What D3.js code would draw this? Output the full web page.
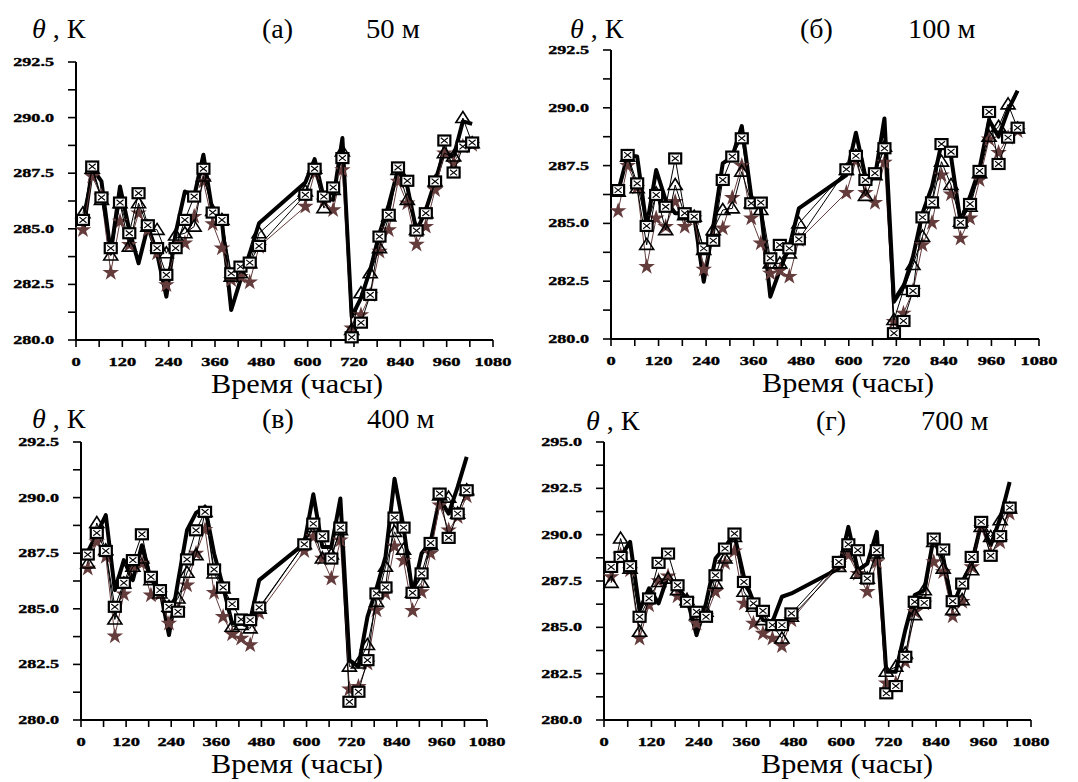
<!DOCTYPE html>
<html>
<head>
<meta charset="utf-8">
<script src="https://cdn.jsdelivr.net/npm/d3@7"></script>
<style>
  html, body { margin: 0; padding: 0; background: #fff; }
  svg { display: block; }
</style>
</head>
<body>
<svg id="chart" width="1078" height="782"></svg>
<script>
// Observation times, hours
const hours = [18, 42, 66, 90, 114, 138, 162, 186, 210, 234, 258, 282, 306, 330, 354, 378, 402, 426, 450, 474,
               594, 618, 642, 666, 690, 714, 738, 762, 786, 810, 834, 858, 882, 906, 930, 954, 978, 1002, 1026];

const xTicks = [0, 120, 240, 360, 480, 600, 720, 840, 960, 1080];

// 50 m
const thick50 = [284.8, 287.73, 287.13, 283.9, 286.9, 284.95, 283.45, 285.1, 283.9, 281.95, 284.8, 286.68, 286.45, 288.33, 285.7, 285.33, 281.35, 282.7, 283.9, 285.25,
                 287.08, 288.13, 286.38, 286.3, 289.08, 281.05, 281.88, 283.15, 284.8, 286.08, 287.65, 286.9, 284.88, 285.85, 287.13, 288.48, 288.25, 289.83, 289.72];
const tri50 = [285.7, 287.7, 286.3, 283.8, 286.15, 284.2, 286.15, 285.1, 284.95, 283.9, 284.7, 284.8, 285.1, 287.35, 285.8, 285.4, 282.85, 283.0, 283.45, 284.8,
               286.68, 287.7, 285.93, 286.75, 288.48, 280.45, 282.1, 283.0, 284.13, 285.55, 287.65, 286.3, 284.95, 285.7, 287.13, 288.4, 288.25, 289.98, 288.85];
const box50 = [285.4, 287.8, 286.41, 284.13, 286.18, 284.8, 286.6, 285.16, 284.13, 282.93, 284.13, 285.4, 286.45, 287.7, 285.73, 285.4, 283.0, 283.3, 283.48, 284.23,
               286.53, 287.7, 286.45, 286.86, 288.18, 280.12, 280.78, 282.03, 284.65, 285.63, 287.76, 287.16, 284.92, 285.7, 287.13, 288.97, 287.53, 288.7, 288.88];
const star50 = [284.95, 287.35, 286.45, 283.03, 285.33, 284.28, 285.7, 284.95, 283.9, 282.48, 284.2, 284.35, 285.55, 287.13, 285.22, 284.13, 282.7, 282.85, 282.6, 284.2,
                286.0, 287.5, 286.23, 285.85, 287.65, 280.53, 281.13, 282.03, 283.98, 284.95, 287.13, 286.15, 284.3, 285.1, 286.75, 288.4, 287.95, 288.7, 288.78];

// 100 m
const thick100 = [286.37, 287.96, 287.89, 284.86, 287.31, 286.01, 285.44, 285.44, 285.29, 282.48, 284.86, 287.6, 287.89, 289.21, 286.16, 285.65, 281.83, 282.98, 283.99, 285.65,
                  287.09, 288.92, 287.02, 287.02, 289.54, 281.61, 282.26, 283.56, 285.44, 286.59, 288.46, 287.89, 285.07, 286.16, 287.38, 289.47, 288.75, 289.9, 290.74];
const tri100 = [286.37, 287.89, 286.52, 284.07, 286.3, 284.71, 286.66, 285.36, 285.29, 283.85, 284.71, 285.58, 285.65, 287.24, 285.87, 285.58, 283.27, 283.27, 283.7, 285.0,
                287.31, 287.92, 286.19, 287.09, 288.32, 280.82, 282.12, 283.2, 284.43, 285.87, 287.67, 286.66, 285.07, 285.72, 287.17, 288.75, 289.18, 290.15, 289.11];
const box100 = [286.44, 287.96, 286.73, 284.89, 286.23, 285.72, 287.81, 285.44, 285.29, 283.92, 284.25, 286.88, 287.89, 288.68, 285.87, 285.9, 283.49, 284.07, 283.92, 284.31,
                287.34, 287.92, 286.88, 287.17, 288.25, 280.25, 280.78, 282.08, 285.26, 285.91, 288.43, 288.1, 285.03, 285.84, 287.27, 289.82, 287.57, 288.71, 289.14];
const star100 = [285.54, 287.5, 286.55, 283.13, 285.22, 284.86, 285.94, 284.86, 285.22, 283.01, 284.43, 284.79, 286.11, 287.5, 285.22, 284.14, 282.84, 282.96, 282.7, 284.28,
                 286.33, 287.71, 286.33, 285.9, 287.64, 280.75, 281.11, 282.08, 284.07, 285.03, 287.09, 286.26, 284.35, 285.22, 286.88, 288.64, 288.06, 288.71, 289.0];

// 400 m
const thick400 = [287.56, 288.38, 289.21, 285.84, 287.19, 286.29, 287.86, 286.29, 285.91, 283.82, 286.21, 288.53, 289.31, 289.58, 287.49, 285.99, 284.34, 284.34, 284.49, 286.29,
                  287.93, 290.15, 287.78, 287.78, 289.96, 282.69, 282.4, 284.64, 285.91, 287.34, 290.85, 288.68, 285.69, 287.49, 288.01, 289.96, 289.28, 290.48, 291.83];
const tri400 = [287.04, 288.86, 287.63, 284.52, 286.14, 286.89, 287.26, 286.29, 285.69, 285.09, 285.46, 286.62, 287.41, 289.36, 286.59, 285.91, 284.19, 284.27, 284.12, 285.01,
                287.9, 288.68, 287.26, 287.44, 288.53, 282.4, 282.54, 283.37, 285.31, 286.89, 288.46, 287.66, 285.72, 286.17, 287.86, 290.1, 290.0, 289.28, 290.33];
const box400 = [287.44, 288.41, 287.6, 285.09, 286.17, 287.19, 288.35, 286.44, 285.84, 285.09, 284.87, 287.22, 288.53, 289.36, 286.77, 285.96, 285.21, 284.52, 284.49, 285.06,
                287.9, 288.83, 288.26, 287.26, 288.65, 280.82, 281.27, 282.69, 285.69, 285.96, 289.1, 288.65, 285.72, 286.59, 287.96, 290.18, 288.19, 289.28, 290.33];
const star400 = [286.81, 288.01, 287.34, 283.77, 285.66, 286.89, 287.04, 285.61, 285.66, 284.34, 284.94, 286.06, 287.49, 288.56, 285.72, 284.64, 283.86, 283.67, 283.37, 284.82,
                 287.6, 288.23, 287.26, 286.36, 288.08, 281.38, 281.5, 282.54, 284.94, 285.69, 287.81, 287.16, 284.91, 285.76, 287.49, 289.66, 288.53, 289.13, 290.06];

// 700 m
const thick700 = [288.08, 288.8, 289.61, 285.93, 287.1, 286.29, 287.81, 287.0, 286.56, 284.58, 286.29, 288.71, 289.34, 289.97, 287.72, 286.38, 285.39, 285.3, 286.65, 286.83,
                  288.17, 290.42, 288.08, 288.44, 290.15, 282.6, 282.6, 284.85, 286.74, 287.0, 289.88, 288.62, 286.11, 287.45, 288.44, 290.6, 289.43, 290.87, 292.84];
const tri700 = [287.4, 289.79, 288.17, 284.76, 286.56, 287.45, 287.63, 287.0, 286.47, 285.66, 285.84, 287.36, 288.71, 289.88, 286.92, 286.11, 285.39, 285.12, 284.4, 285.57,
                288.26, 289.34, 287.9, 287.63, 288.98, 282.6, 282.87, 283.59, 285.66, 287.0, 289.61, 288.17, 285.93, 286.47, 288.08, 290.42, 289.88, 290.78, 291.41];
const box700 = [288.26, 288.8, 288.3, 285.57, 286.56, 288.48, 288.98, 287.27, 286.38, 285.84, 285.57, 287.81, 289.25, 290.06, 287.45, 286.29, 285.89, 285.12, 285.12, 285.75,
                288.53, 289.48, 289.16, 287.63, 289.16, 281.44, 281.83, 283.41, 286.38, 286.32, 289.79, 289.2, 286.41, 287.36, 288.8, 290.69, 288.86, 289.92, 291.46];
const star700 = [287.72, 288.89, 288.08, 284.4, 286.2, 287.51, 287.76, 286.68, 286.47, 285.21, 285.6, 286.92, 288.48, 289.11, 286.29, 285.21, 284.67, 284.4, 283.99, 285.39,
                 288.44, 288.89, 287.9, 286.92, 288.53, 281.98, 281.98, 283.14, 285.84, 286.29, 288.53, 287.99, 285.6, 286.38, 288.26, 290.38, 288.98, 289.61, 291.14];

const panelLetters = ["(а)", "(б)", "(в)", "(г)"];
const heights = ["50 м", "100 м", "400 м", "700 м"];
const yRanges = [[280, 292.5], [280, 292.5], [280, 292.5], [280, 295]];

const panels = [
  { x0: 76,  x1: 493,  yBot: 340, yTop: 62,  head: 38,  letterX: 262, hX: 366, thetaX: 32,  title: 297,
    thick: thick50, tri: tri50, box: box50, star: star50 },
  { x0: 611, x1: 1039, yBot: 339, yTop: 50,  head: 38,  letterX: 800, hX: 908, thetaX: 570, title: 848,
    thick: thick100, tri: tri100, box: box100, star: star100 },
  { x0: 81,  x1: 487,  yBot: 720, yTop: 442, head: 428, letterX: 262, hX: 367, thetaX: 32,  title: 297,
    thick: thick400, tri: tri400, box: box400, star: star400 },
  { x0: 604, x1: 1031, yBot: 720, yTop: 442, head: 430, letterX: 816, hX: 921, thetaX: 586, title: 847,
    thick: thick700, tri: tri700, box: box700, star: star700 }
];

const svg = d3.select("#chart");
const serif = "Liberation Serif, Times New Roman, DejaVu Serif, serif";
const starColor = "#653c3c";

function labelWidth(s) {
  let w = 0;
  for (const c of s) w += (c === ".") ? 4 : 9.2;
  return w;
}

panels.forEach((p, i) => {
  const x = d3.scaleLinear().domain([0, 1080]).range([p.x0, p.x1]);
  const y = d3.scaleLinear().domain(yRanges[i]).range([p.yBot, p.yTop]);
  const g = svg.append("g");

  // axes
  const yMin = yRanges[i][0], yMax = yRanges[i][1];
  const yTickVals = d3.range(yMin, yMax + 0.001, 1.25);
  const xTickVals = d3.range(0, 1081, 60);

  g.append("line").attr("x1", p.x0).attr("x2", p.x0).attr("y1", y(yMax)).attr("y2", p.yBot)
    .attr("stroke", "#000").attr("stroke-width", 2);
  g.append("line").attr("x1", p.x0).attr("x2", p.x1).attr("y1", p.yBot).attr("y2", p.yBot)
    .attr("stroke", "#000").attr("stroke-width", 2);

  g.selectAll(".yt").data(yTickVals).join("line")
    .attr("x1", p.x0 - 8).attr("x2", p.x0).attr("y1", d => y(d)).attr("y2", d => y(d))
    .attr("stroke", "#000").attr("stroke-width", 1.6);
  g.selectAll(".xt").data(xTickVals).join("line")
    .attr("x1", d => x(d)).attr("x2", d => x(d)).attr("y1", p.yBot).attr("y2", p.yBot + 7)
    .attr("stroke", "#000").attr("stroke-width", 1.6);

  const yLabels = d3.range(yMin, yMax + 0.001, 2.5).map(v => v.toFixed(1));
  g.selectAll(".yl").data(yLabels).join("text")
    .attr("x", p.x0 - 22).attr("y", d => y(+d) + 4)
    .attr("text-anchor", "end")
    .attr("font-family", serif).attr("font-weight", "bold").attr("font-size", 12)
    .attr("stroke", "#000").attr("stroke-width", 0.35)
    .attr("textLength", d => labelWidth(d)).attr("lengthAdjust", "spacingAndGlyphs")
    .text(d => d);

  g.selectAll(".xl").data(xTicks).join("text")
    .attr("x", d => x(d)).attr("y", p.yBot + 26)
    .attr("text-anchor", "middle")
    .attr("font-family", serif).attr("font-weight", "bold").attr("font-size", 12)
    .attr("stroke", "#000").attr("stroke-width", 0.35)
    .attr("textLength", d => labelWidth(String(d))).attr("lengthAdjust", "spacingAndGlyphs")
    .text(d => d);

  // headers
  const head = g.append("text").attr("x", p.thetaX).attr("y", p.head)
    .attr("font-family", serif).attr("font-size", 28);
  head.append("tspan").attr("font-style", "italic").text("θ");
  head.append("tspan").text(" , К");

  g.append("text").attr("x", p.letterX).attr("y", p.head)
    .attr("font-family", serif).attr("font-size", 28).text(panelLetters[i]);
  g.append("text").attr("x", p.hX).attr("y", p.head)
    .attr("font-family", serif).attr("font-size", 28)
    .attr("textLength", heights[i].length * 13.5).attr("lengthAdjust", "spacingAndGlyphs")
    .text(heights[i]);

  g.append("text").attr("x", p.title).attr("y", p.yBot + 53)
    .attr("text-anchor", "middle")
    .attr("font-family", serif).attr("font-size", 28)
    .attr("textLength", 172).attr("lengthAdjust", "spacingAndGlyphs")
    .text("Время (часы)");

  // series
  const line = vals => d3.line().x((d, j) => x(hours[j])).y(d => y(d))(vals);

  g.append("path").attr("d", line(p.thick)).attr("fill", "none")
    .attr("stroke", "#000").attr("stroke-width", 4).attr("stroke-linejoin", "round");

  g.append("path").attr("d", line(p.star)).attr("fill", "none")
    .attr("stroke", starColor).attr("stroke-width", 1);
  g.selectAll(".st").data(p.star).join("path")
    .attr("d", d3.symbol().type(d3.symbolStar).size(85))
    .attr("transform", (d, j) => `translate(${x(hours[j])},${y(d)})`)
    .attr("fill", starColor);

  g.append("path").attr("d", line(p.tri)).attr("fill", "none")
    .attr("stroke", "#000").attr("stroke-width", 1);
  g.selectAll(".tr").data(p.tri).join("path")
    .attr("d", "M0,-6.5L7,4.5L-7,4.5Z")
    .attr("transform", (d, j) => `translate(${x(hours[j])},${y(d)})`)
    .attr("fill", "none").attr("stroke", "#000").attr("stroke-width", 1.6);

  g.append("path").attr("d", line(p.box)).attr("fill", "none")
    .attr("stroke", "#000").attr("stroke-width", 1);
  const bx = g.selectAll(".bx").data(p.box).join("g")
    .attr("transform", (d, j) => `translate(${x(hours[j])},${y(d)})`);
  bx.append("rect").attr("x", -6).attr("y", -5).attr("width", 12).attr("height", 10)
    .attr("fill", "#fff").attr("stroke", "#000").attr("stroke-width", 2.2);
  bx.append("path").attr("d", "M-3.5,-2.8L3.5,2.8M-3.5,2.8L3.5,-2.8")
    .attr("stroke", "#000").attr("stroke-width", 1.1);
});
</script>
</body>
</html>
